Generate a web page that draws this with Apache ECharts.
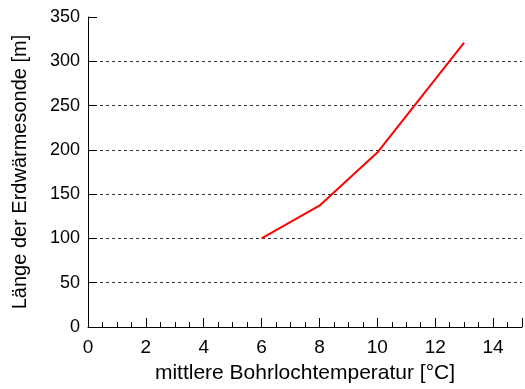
<!DOCTYPE html>
<html>
<head>
<meta charset="utf-8">
<script src="https://cdn.jsdelivr.net/npm/echarts@6/dist/echarts.min.js"></script>
<style>html,body{margin:0;padding:0;background:#fff}#c{width:525px;height:389px}</style>
</head>
<body>
<div id="c"></div>
<script>
var temperatures = [6, 8, 10, 13];
var lengths = [100, 137, 197, 321];
var xTitle = 'mittlere Bohrlochtemperatur [°C]';
var yTitle = 'Länge der Erdwärmesonde [m]';

var chart = echarts.init(document.getElementById('c'), null, {renderer: 'canvas'});
var font = 'Liberation Sans, Arial, sans-serif';
chart.setOption({
  animation: false,
  grid: {left: 88, top: 17, right: 2, bottom: 61, containLabel: false},
  xAxis: {
    type: 'value', min: 0, max: 15, interval: 2,
    name: xTitle, nameLocation: 'middle', nameGap: 36,
    nameTextStyle: {fontFamily: font, fontSize: 21, color: '#000'},
    axisLine: {show: true, lineStyle: {color: '#000', width: 1}},
    axisTick: {show: true, inside: true, length: 9, lineStyle: {color: '#000'}},
    minorTick: {show: true, splitNumber: 4, length: 5, lineStyle: {color: '#000'}},
    axisLabel: {fontFamily: font, fontSize: 19, color: '#000', margin: 11,
      formatter: function (v) { return v > 14 ? '' : String(v); }},
    splitLine: {show: false}
  },
  yAxis: {
    type: 'value', min: 0, max: 350, interval: 50,
    name: yTitle, nameLocation: 'middle', nameGap: 58,
    nameTextStyle: {fontFamily: font, fontSize: 20, color: '#000'},
    axisLine: {show: true, lineStyle: {color: '#000', width: 1}},
    axisTick: {show: true, inside: true, length: 9, lineStyle: {color: '#000'}},
    axisLabel: {fontFamily: font, fontSize: 18, color: '#000', margin: 8},
    splitLine: {show: true, showMaxLine: false, showMinLine: false,
      lineStyle: {color: '#333', type: [3, 3], width: 1}},
    splitArea: {show: false}
  },
  series: [{
    type: 'line',
    data: temperatures.map(function (t, i) { return [t, lengths[i]]; }),
    showSymbol: false,
    lineStyle: {color: '#ff0000', width: 2},
    itemStyle: {color: '#ff0000'}
  }]
});
</script>
</body>
</html>
